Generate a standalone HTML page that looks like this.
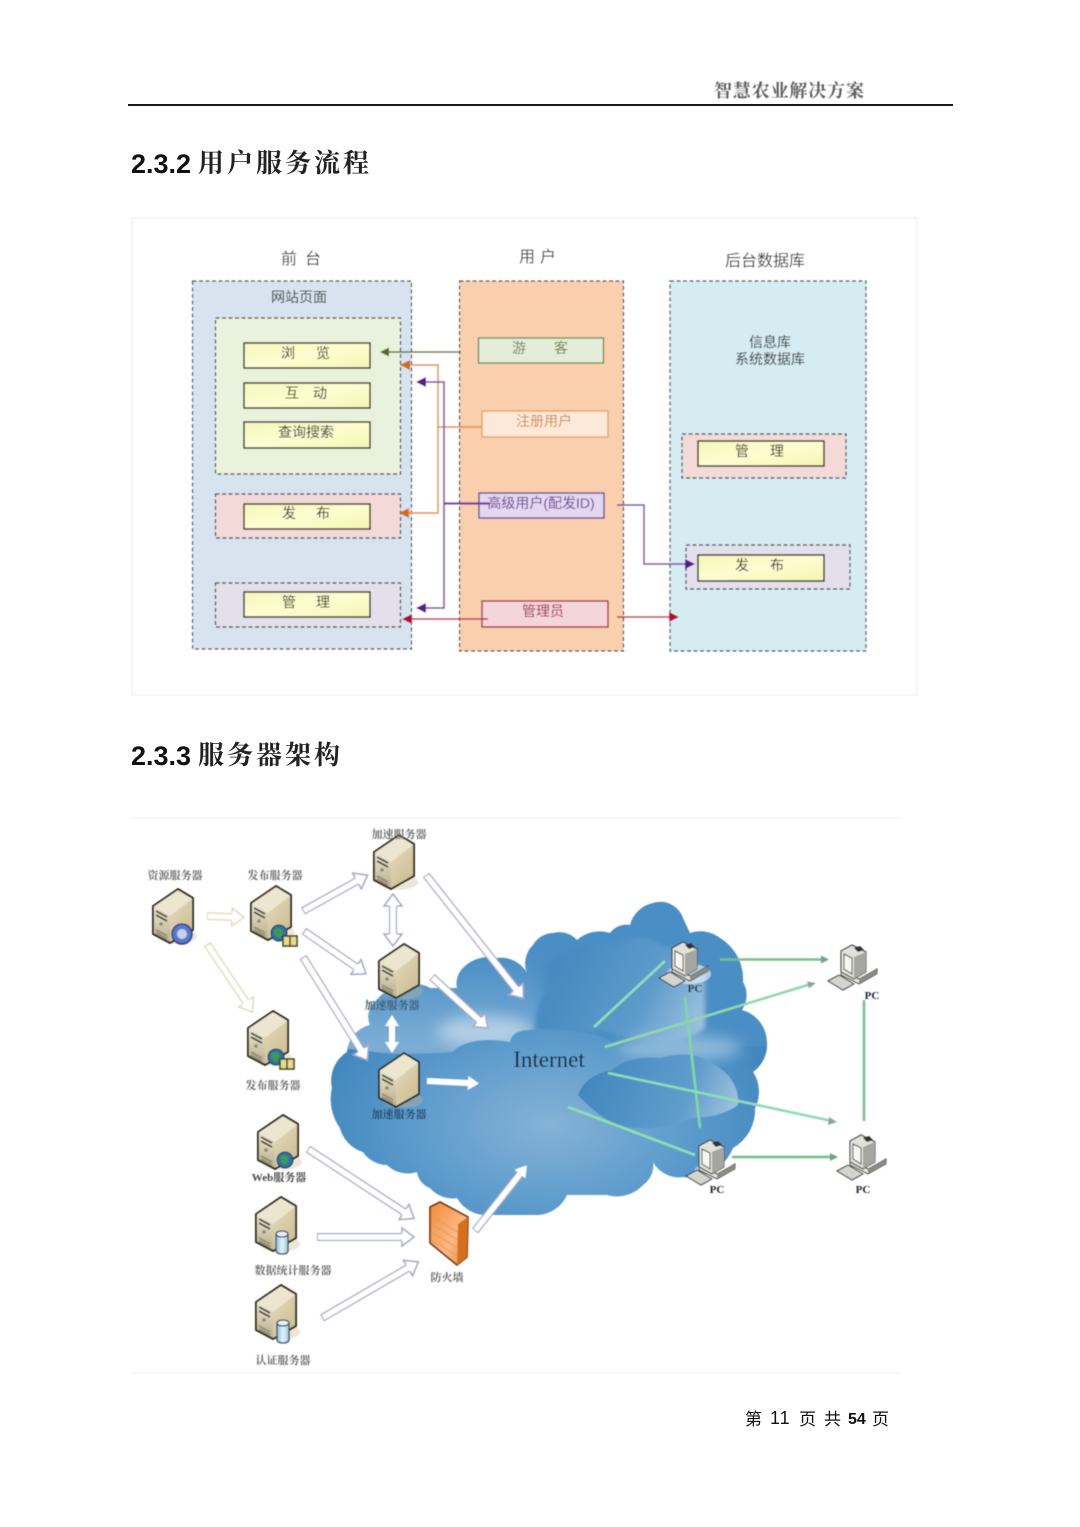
<!DOCTYPE html>
<html lang="zh">
<head>
<meta charset="utf-8">
<title>用户服务流程与服务器架构</title>
<style>
html,body{margin:0;padding:0;background:#fff;width:1080px;height:1527px;overflow:hidden}
svg{display:block}
text{font-family:"Liberation Sans","Noto Sans CJK SC",sans-serif}
.t{font-size:14px;fill:#2a2a24;text-anchor:middle}
.h{font-size:16px;fill:#333;text-anchor:middle}
.s{font-family:"Liberation Serif","Noto Serif CJK SC",serif;font-size:11px;font-weight:700;fill:#6a6a6a;text-anchor:middle}
.pc{font-family:"Liberation Serif",serif;font-size:11px;font-weight:700;fill:#223;text-anchor:middle}
.title{font-size:27px;font-weight:700;fill:#111}
.cjkt{font-family:"Noto Serif CJK SC","Noto Sans CJK SC",serif;font-size:26px;font-weight:700;fill:#222;letter-spacing:3px}
.g{stroke-width:2.600;fill:none}
.dash{stroke:#2e2e2e;stroke-width:1.200;stroke-dasharray:4 2.500}
</style>
</head>
<body>
<svg width="1080" height="1527" viewBox="0 0 1080 1527" xmlns="http://www.w3.org/2000/svg">
<defs>
<linearGradient id="yel" x1="0" y1="0" x2="1" y2="1"><stop offset="0" stop-color="#f6f6bd"/><stop offset=".5" stop-color="#fdfdd0"/><stop offset="1" stop-color="#f5f5b4"/></linearGradient>
<linearGradient id="lf" x1="0" y1="0" x2="0" y2="1"><stop offset="0" stop-color="#ebe5cf"/><stop offset="1" stop-color="#b8ae8c"/></linearGradient>
<linearGradient id="rf" x1="0" y1="0" x2="1" y2="1"><stop offset="0" stop-color="#f0ead4"/><stop offset="1" stop-color="#c8b88a"/></linearGradient>
<linearGradient id="fw" x1="0" y1="0" x2="1" y2="1"><stop offset="0" stop-color="#f58a35"/><stop offset=".6" stop-color="#fbb884"/><stop offset="1" stop-color="#f08a3a"/></linearGradient>
<linearGradient id="cyl" x1="0" y1="0" x2="1" y2="0"><stop offset="0" stop-color="#8fc0de"/><stop offset=".5" stop-color="#e4f2fa"/><stop offset="1" stop-color="#9cc8e2"/></linearGradient>
<linearGradient id="upl" gradientUnits="userSpaceOnUse" x1="0" y1="965" x2="0" y2="1050"><stop offset="0" stop-color="#4e91c6"/><stop offset="1" stop-color="#7fb0d6"/></linearGradient>
<radialGradient id="low" gradientUnits="userSpaceOnUse" cx="550" cy="1125" r="235" gradientTransform="translate(0 450) scale(1 .6)"><stop offset="0" stop-color="#86b2d6"/><stop offset=".5" stop-color="#629fce"/><stop offset="1" stop-color="#4288bf"/></radialGradient>
<linearGradient id="upr" gradientUnits="userSpaceOnUse" x1="545" y1="960" x2="705" y2="1040"><stop offset="0" stop-color="#4287bf"/><stop offset=".6" stop-color="#5d9bcb"/><stop offset="1" stop-color="#a8c8e2"/></linearGradient>
<linearGradient id="lr" gradientUnits="userSpaceOnUse" x1="590" y1="1065" x2="735" y2="1125"><stop offset="0" stop-color="#4287bf"/><stop offset=".65" stop-color="#609dcc"/><stop offset="1" stop-color="#a5c6e0"/></linearGradient>
<filter id="b2" x="-30%" y="-30%" width="160%" height="160%"><feGaussianBlur stdDeviation="2.500"/></filter>
<filter id="b3" x="-40%" y="-40%" width="180%" height="180%"><feGaussianBlur stdDeviation="7"/></filter>
<filter id="soft" x="-5%" y="-5%" width="110%" height="110%"><feGaussianBlur stdDeviation=".4"/></filter>
<path id="cloudp" d="M332,1088 A34,34 0 0 1 347,1052 A30,30 0 0 1 370,1025 A20,20 0 0 1 375,1002 A36,36 0 0 1 407,987 A24,24 0 0 1 430,988 L457,988 A22,22 0 0 1 463,968 A36,36 0 0 1 497,958 A30,30 0 0 1 527,973 A26,26 0 0 1 533,945 A24,24 0 0 1 553,933 A24,24 0 0 1 577,940 A34,34 0 0 1 610,933 A20,20 0 0 1 630,925 A30,30 0 0 1 653,903 A24,24 0 0 1 683,918 L690,933 A32,32 0 0 1 720,938 A48,48 0 0 1 743,982 A26,26 0 0 1 742,1010 A34,34 0 0 1 767,1042 A34,34 0 0 1 753,1072 A36,36 0 0 1 755,1108 A44,44 0 0 1 733,1148 A48,48 0 0 1 683,1177 A30,30 0 0 1 653,1162 A24,24 0 0 1 643,1185 A36,36 0 0 1 607,1195 L567,1195 A34,34 0 0 1 537,1215 L487,1215 A34,34 0 0 1 457,1198 A30,30 0 0 1 430,1188 A20,20 0 0 1 417,1172 A30,30 0 0 1 387,1165 A30,30 0 0 1 363,1152 A34,34 0 0 1 340,1128 A50,50 0 0 1 332,1088 Z"/>
<clipPath id="cc"><use href="#cloudp"/></clipPath>
<marker id="mv" viewBox="-1 -10 15 20" refX="0" refY="0" markerWidth="15" markerHeight="20" markerUnits="userSpaceOnUse" orient="auto"><path d="M0,-9 L12,0 L0,9 Z" fill="#fff"/><path d="M0,-4 V-9 L12,0 L0,9 V4" fill="none" stroke="#a8a8cc" stroke-width="1.600"/></marker>
<marker id="mvs" viewBox="-1 -10 15 20" refX="0" refY="0" markerWidth="15" markerHeight="20" markerUnits="userSpaceOnUse" orient="auto-start-reverse"><path d="M0,-9 L12,0 L0,9 Z" fill="#fff"/><path d="M0,-4 V-9 L12,0 L0,9 V4" fill="none" stroke="#a8a8cc" stroke-width="1.600"/></marker>
<marker id="my" viewBox="-1 -10 15 20" refX="0" refY="0" markerWidth="15" markerHeight="20" markerUnits="userSpaceOnUse" orient="auto"><path d="M0,-9 L12,0 L0,9 Z" fill="#fff"/><path d="M0,-4 V-9 L12,0 L0,9 V4" fill="none" stroke="#e2dec0" stroke-width="1.600"/></marker>
<marker id="mw" viewBox="-1 -10 15 20" refX="0" refY="0" markerWidth="15" markerHeight="20" markerUnits="userSpaceOnUse" orient="auto-start-reverse"><path d="M0,-7 L11,0 L0,7 Z" fill="#fff"/></marker>
<g id="srv">
<ellipse cx="24" cy="47" rx="20" ry="8" fill="#c9b98e" opacity=".35"/>
<polygon points="0,17 25,0 40,9 40,41 17,54 0,45" fill="url(#rf)"/>
<polygon points="0,17 17,27 17,54 0,45" fill="url(#lf)"/>
<polygon points="0,17 25,0 40,9 17,27" fill="#ece6cf"/>
<polygon points="0,17 25,0 40,9 40,41 17,54 0,45" fill="none" stroke="#2c2a1e" stroke-width="1.900" stroke-linejoin="round"/>
<path d="M3,22 L14,28 M3,26 L14,32" stroke="#3e3c2e" stroke-width="1.700"/>
<circle cx="8" cy="35" r="1.800" fill="#8e8a6a"/>
<path d="M3,41 L14,47 M3,44 L14,50" stroke="#958f78" stroke-width="2"/>
</g>
<g id="globe"><circle cx="0" cy="0" r="8" fill="#2f72a8" stroke="#234" stroke-width="1"/><path d="M-5,-3 Q0,-7 3,-3 Q5,2 0,5 Q-5,3 -5,-3Z" fill="#3a9a52"/></g>
<g id="book"><rect x="-7" y="-5" width="14" height="10" fill="#e8dc86" stroke="#3a3a20" stroke-width="1.500"/><path d="M0,-5V5" stroke="#3a3a20" stroke-width="1.500"/></g>
<g id="cylg"><path d="M-6,-9 V8 A6,3 0 0 0 6,8 V-9" fill="url(#cyl)" stroke="#2f4f66" stroke-width="1.300"/><ellipse cx="0" cy="-9" rx="6" ry="3" fill="#e4f2fa" stroke="#2f4f66" stroke-width="1.300"/></g>
<g id="pcg">
<ellipse cx="30" cy="32" rx="22" ry="10" fill="#fff" opacity=".55"/>
<polygon points="13,25 31,34 49,24 49,29 31,39 13,30" fill="#e6e6e0" stroke="#333" stroke-width="1"/>
<polygon points="31,34 49,24 49,29 31,39" fill="#8b8b85"/>
<polygon points="13,6 24,0 38,7 38,27 26,34 13,27" fill="#e2e2dc" stroke="#2a2a2a" stroke-width="1.100"/>
<polygon points="26,12 38,7 38,27 26,34" fill="#a6a6a0"/>
<polygon points="16,9 24,13 24,29 16,24" fill="#f6f6f2" stroke="#333" stroke-width="1"/>
<polygon points="26,3 32,1 36,5 30,7" fill="#333"/>
<polygon points="0,36 11,30 26,39 15,45" fill="#d4d4ce" stroke="#333" stroke-width="1"/>
</g>
</defs>

<rect width="1080" height="1527" fill="#fff"/>

<!-- header -->
<text x="714" y="97" font-size="18" font-weight="700" fill="#5c5c5c" style="font-family:'Noto Serif CJK SC',serif" textLength="150" lengthAdjust="spacing" filter="url(#soft)">智慧农业解决方案</text>
<rect x="128" y="104" width="825" height="2" fill="#1a1a1a"/>

<!-- titles -->
<text class="title" x="131" y="173">2.3.2</text>
<text class="cjkt" x="198" y="172">用户服务流程</text>
<text class="title" x="131" y="765">2.3.3</text>
<text class="cjkt" x="198" y="764">服务器架构</text>

<!-- flow diagram -->
<g filter="url(#soft)">
<rect x="132" y="218" width="785" height="477" fill="#fff" stroke="#eeeeee" stroke-width="1"/>
<text class="h" x="289" y="264">前</text><text class="h" x="313" y="264">台</text>
<text class="h" x="527" y="262">用</text><text class="h" x="548" y="262">户</text>
<text class="h" x="765" y="266">后台数据库</text>

<rect class="dash" x="192.500" y="281" width="219" height="368" fill="#d7e4f0"/>
<rect class="dash" x="459.500" y="281" width="164" height="370" fill="#f9cfae"/>
<rect class="dash" x="670" y="281" width="196" height="370" fill="#d6ecf3"/>

<text class="t" x="299" y="302">网站页面</text>

<rect class="dash" x="215.500" y="318" width="185" height="156" fill="#e9f2dd"/>
<rect class="dash" x="215.500" y="494" width="185" height="44" fill="#f3d9d8"/>
<rect class="dash" x="215.500" y="583" width="185" height="44" fill="#e3dfeb"/>

<g fill="url(#yel)" stroke="#1e1e14" stroke-width="1.400">
<rect x="244" y="343" width="126" height="25"/>
<rect x="244" y="383" width="126" height="25"/>
<rect x="244" y="422" width="126" height="26"/>
<rect x="244" y="504" width="126" height="25"/>
<rect x="244" y="592" width="126" height="25"/>
</g>
<text class="t" x="288" y="358">浏</text><text class="t" x="323" y="358">览</text>
<text class="t" x="292" y="398">互</text><text class="t" x="320" y="398">动</text>
<text class="t" x="306" y="437">查询搜索</text>
<text class="t" x="289" y="518">发</text><text class="t" x="323" y="518">布</text>
<text class="t" x="289" y="607">管</text><text class="t" x="323" y="607">理</text>

<!-- user boxes -->
<rect x="478.500" y="338" width="125" height="25" fill="#e3edd9" stroke="#7d8e50" stroke-width="1.400"/>
<text class="t" x="519" y="353" style="fill:#6f8050">游</text><text class="t" x="561" y="353" style="fill:#6f8050">客</text>
<rect x="482" y="411" width="126" height="26" fill="#fde9d9" stroke="#e6a062" stroke-width="1.400"/>
<text class="t" x="544" y="426" style="fill:#cb8c50">注册用户</text>
<rect x="479" y="493" width="125" height="25" fill="#e3d8ef" stroke="#6a4898" stroke-width="1.400"/>
<text class="t" x="541" y="508" style="fill:#6a3a90">高级用户(配发ID)</text>
<rect x="482" y="601" width="126" height="26" fill="#f3d6da" stroke="#a82848" stroke-width="1.400"/>
<text class="t" x="543" y="616" style="fill:#a02040">管理员</text>

<!-- right panel -->
<text class="t" x="770" y="347">信息库</text>
<text class="t" x="770" y="364">系统数据库</text>
<rect class="dash" x="682" y="434" width="164" height="44" fill="#f3d9d8"/>
<rect x="698" y="441" width="126" height="25" fill="url(#yel)" stroke="#1e1e14" stroke-width="1.400"/>
<text class="t" x="742" y="456">管</text><text class="t" x="777" y="456">理</text>
<rect class="dash" x="686" y="545" width="164" height="44" fill="#e3dfeb"/>
<rect x="698" y="555" width="126" height="26" fill="url(#yel)" stroke="#1e1e14" stroke-width="1.400"/>
<text class="t" x="742" y="570">发</text><text class="t" x="777" y="570">布</text>

<!-- connectors -->
<path d="M461,352 H386" stroke="#66754f" stroke-width="1.500" fill="none"/>
<polygon points="380,352 389,347.500 389,356.500" fill="#4f6a30"/>
<path d="M407,365 H438 V513 H407 M438,427 H482" stroke="#e69a58" stroke-width="1.700" fill="none"/>
<polygon points="400,365 410,360 410,370" fill="#d8681c"/>
<polygon points="399,513 409,508 409,518" fill="#d8681c"/>
<path d="M423,382 H444 V608 H423" stroke="#8a60b4" stroke-width="1.800" fill="none"/>
<path d="M444,503.500 H490" stroke="#7a3aa0" stroke-width="2.200" fill="none"/>
<polygon points="416,382 426,377 426,387" fill="#5a1f88"/>
<polygon points="416,608 426,603 426,613" fill="#5a1f88"/>
<path d="M408,619 H488" stroke="#b83050" stroke-width="1.500" fill="none"/>
<polygon points="402,619 412,614 412,624" fill="#b01030"/>
<path d="M617,505 H644 V564 H688" stroke="#8a60a8" stroke-width="1.700" fill="none"/>
<polygon points="695,564 685,559 685,569" fill="#5a1f88"/>
<path d="M617,617 H672" stroke="#b83050" stroke-width="1.500" fill="none"/>
<polygon points="679,617 669,612 669,622" fill="#b01030"/>
</g>

<!-- architecture frame -->
<path d="M132,818 H900" stroke="#f2f2f2" stroke-width="1"/>
<path d="M132,1373 H900" stroke="#f2f2f2" stroke-width="1"/>

<g filter="url(#soft)">
<!-- cloud -->
<use href="#cloudp" fill="#4a8ec4"/>
<g clip-path="url(#cc)">
<rect x="335" y="950" width="205" height="110" fill="url(#upl)" filter="url(#b3)"/>
<ellipse cx="485" cy="1032" rx="48" ry="16" fill="#b0cde4" filter="url(#b3)"/>
<path d="M535,1030 Q536,1000 552,990 Q540,960 570,952 Q590,935 615,945 Q640,930 660,945 Q690,950 705,975 L705,1028 Q680,1050 640,1040 L600,1030 Q570,1040 535,1030Z" fill="url(#upr)" filter="url(#b2)"/>
<path d="M320,1052 Q345,1046 375,1052 Q400,1056 452,1052 Q470,1035 510,1042 Q512,1030 530,1030 Q555,1026 600,1036 L620,1046 L780,1046 L780,1230 L320,1230Z" fill="url(#low)"/>
<ellipse cx="680" cy="1048" rx="62" ry="13" fill="#8db9da" filter="url(#b3)"/>
<path d="M578,1095 Q585,1075 612,1070 Q630,1055 660,1058 Q690,1050 705,1060 Q740,1075 738,1105 Q720,1118 690,1118 Q670,1130 640,1128 Q610,1130 578,1095Z" fill="url(#lr)"/>
</g>
<text x="549" y="1067" text-anchor="middle" style="font-family:'Liberation Serif',serif;font-size:23px;fill:#12283f">Internet</text>

<!-- block arrows -->
<g fill="none" stroke-linecap="butt">
<g stroke="#e2dec0" stroke-width="8"><path d="M207,916 L232,917"/><path d="M207,944 L246,1002"/></g>
<g stroke="#fff" stroke-width="5"><path d="M208,916 L232,917" marker-end="url(#my)"/><path d="M208,945.500 L246,1002" marker-end="url(#my)"/></g>
<g stroke="#a8a8cc" stroke-width="8">
<path d="M303,911 L357,881"/><path d="M304,931 L356,967"/><path d="M303,957 L361,1050"/>
<path d="M393,906 L393,934"/><path d="M426,875 L516,989"/><path d="M432,977 L479,1020"/>
<path d="M308,1149 L404,1212"/><path d="M317,1237 L402,1237"/><path d="M322,1318 L408,1268"/>
<path d="M475,1231 L520,1174"/>
</g>
<g stroke="#fff" stroke-width="5.500">
<path d="M304,910.500 L357,881" marker-end="url(#mv)"/><path d="M305,931.700 L356,967" marker-end="url(#mv)"/><path d="M303.600,958 L361,1050" marker-end="url(#mv)"/>
<path d="M393,906 L393,934" marker-start="url(#mvs)" marker-end="url(#mvs)"/><path d="M426.600,875.800 L516,989" marker-end="url(#mv)"/><path d="M432.700,977.700 L479,1020" marker-end="url(#mv)"/>
<path d="M392,1026 L392,1042" stroke-width="6" marker-start="url(#mw)" marker-end="url(#mw)"/><path d="M427,1081 L468,1083" stroke-width="6" marker-end="url(#mw)"/>
<path d="M308.800,1149.600 L404,1212" marker-end="url(#mv)"/><path d="M318,1237 L402,1237" marker-end="url(#mv)"/><path d="M323,1317.500 L408,1268" marker-end="url(#mv)"/>
<path d="M475.600,1230.200 L520,1174" marker-end="url(#mw)"/>
</g>
</g>

<!-- servers -->
<use href="#srv" x="153" y="889"/>
<circle cx="182" cy="934" r="10" fill="#5a78c8" stroke="#27408a" stroke-width="1.500"/><circle cx="182" cy="934" r="5" fill="#c4d2f0"/>
<use href="#srv" x="251" y="886"/><use href="#globe" x="279" y="933"/><use href="#book" x="290" y="941"/>
<use href="#srv" x="374" y="835"/>
<use href="#srv" x="379" y="944"/>
<use href="#srv" x="248" y="1011"/><use href="#globe" x="276" y="1057"/><use href="#book" x="287" y="1064"/>
<use href="#srv" x="379" y="1053"/>
<use href="#srv" x="258" y="1115"/><use href="#globe" x="285" y="1160"/>
<use href="#srv" x="256" y="1197"/><use href="#cylg" x="282" y="1243"/>
<use href="#srv" x="256" y="1285"/><use href="#cylg" x="283" y="1332"/>

<!-- firewall -->
<polygon points="430,1207 440,1202 468,1217 467,1257 457,1265 430,1243" fill="url(#fw)" stroke="#6b2f08" stroke-width="1.600" stroke-linejoin="round"/>
<polygon points="458,1224 468,1217 467,1257 457,1265" fill="#d4701e"/>
<path d="M431,1216 L458,1232 M431,1224 L458,1240 M431,1232 L458,1248 M431,1240 L458,1256" stroke="#e9965a" stroke-width="1"/>

<!-- PCs -->
<use href="#pcg" x="659" y="942"/>
<use href="#pcg" x="828" y="945"/>
<use href="#pcg" x="686" y="1140"/>
<use href="#pcg" x="837" y="1135"/>
<text class="pc" x="695" y="992">PC</text>
<text class="pc" x="872" y="999">PC</text>
<text class="pc" x="717" y="1193">PC</text>
<text class="pc" x="863" y="1193">PC</text>

<!-- green links -->
<path class="g" d="M594,1027 L665,961" stroke="#8fe0b0"/>
<path class="g" d="M720,959.500 H824" stroke="#74c08a"/><polygon points="829,959.500 821,955.500 821,963.500" fill="#6aa880"/>
<path class="g" d="M605,1047 L811,984" stroke="#8fd8a8"/><polygon points="816,983 807,981.500 809,988.500" fill="#8aa898"/>
<path class="g" d="M685,997 L700,1128" stroke="#80d8a0"/>
<path class="g" d="M608,1073 L832,1121" stroke="#8fdcb4"/><polygon points="837,1122 829,1117 828,1125" fill="#8aa898"/>
<path class="g" d="M568,1107 L695,1155" stroke="#8fe0b0"/>
<path class="g" d="M732,1157 H834" stroke="#70bc88"/><polygon points="838,1157 830,1153 830,1161" fill="#6aa880"/>
<path class="g" d="M864,1000 V1121" stroke="#78c48e"/>

<!-- labels -->
<text class="s" x="175" y="879">资源服务器</text>
<text class="s" x="275" y="879">发布服务器</text>
<text class="s" x="399" y="838">加速服务器</text>
<text class="s" x="392" y="1009" style="fill:#40566e">加速服务器</text>
<text class="s" x="273" y="1089">发布服务器</text>
<text class="s" x="399" y="1118" style="fill:#1e3f68">加速服务器</text>
<text class="s" x="279" y="1181" style="fill:#444">Web服务器</text>
<text class="s" x="293" y="1274">数据统计服务器</text>
<text class="s" x="283" y="1364">认证服务器</text>
<text class="s" x="447" y="1281">防火墙</text>
</g>

<!-- footer -->
<g font-size="17" fill="#111">
<text x="745" y="1425">第</text>
<text x="770" y="1424" style="font-size:18px;letter-spacing:1px">11</text>
<text x="799" y="1425">页</text>
<text x="824" y="1425">共</text>
<text x="848" y="1424" style="font-weight:700;font-size:16px">54</text>
<text x="872" y="1425">页</text>
</g>
</svg>
</body>
</html>
